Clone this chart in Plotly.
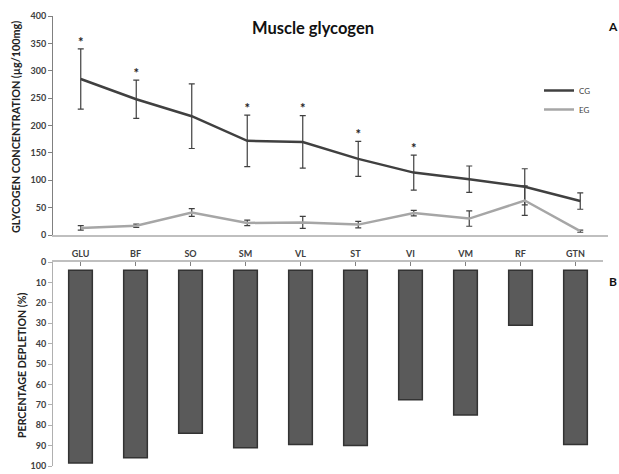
import plotly.graph_objects as go

muscles = ["GLU", "BF", "SO", "SM", "VL", "ST", "VI", "VM", "RF", "GTN"]
cg_mean = [285, 248, 217, 172, 170, 139, 114, 102, 88, 62]
cg_err = [55, 35, 59, 47, 48, 32, 32, 24, 33, 15]
eg_mean = [13, 17, 41, 22, 23, 19, 40, 30, 63, 7]
eg_err = [4, 3, 7, 5, 11, 6, 5, 14, 27, 2]
significant = [True, True, False, True, True, True, True, False, False, False]
depletion = [98.5, 96, 84, 91, 89.5, 90, 67.5, 75, 31, 89.5]

W, H = 619, 474
FONT = "Lato"
DARK = "#404040"
LIGHT = "#a6a6a6"
AXIS = "#bfbfbf"

def px_x(p):
    return p / W

def px_y(p):
    return 1 - p / H

fig = go.Figure()

fig.add_trace(go.Scatter(
    x=muscles, y=cg_mean, name="CG", mode="lines",
    line=dict(color=DARK, width=2.5),
    error_y=dict(type="data", array=cg_err, color=DARK, thickness=1.2, width=3),
    xaxis="x", yaxis="y",
))
fig.add_trace(go.Scatter(
    x=muscles, y=eg_mean, name="EG", mode="lines",
    line=dict(color=LIGHT, width=2.5),
    error_y=dict(type="data", array=eg_err, color=DARK, thickness=1.2, width=3),
    xaxis="x", yaxis="y",
))

star_x = [m for m, s in zip(muscles, significant) if s]
star_y = [c + e + 10 for c, e, s in zip(cg_mean, cg_err, significant) if s]
fig.add_trace(go.Scatter(
    x=star_x, y=star_y, mode="text", text=["<b>*</b>"] * len(star_x),
    textfont=dict(family=FONT, size=13, color="#222"),
    showlegend=False, hoverinfo="skip", xaxis="x", yaxis="y",
))

fig.add_trace(go.Bar(
    x=muscles, y=[d - 4 for d in depletion], base=4, width=0.43,
    marker=dict(color="#5a5a5a", line=dict(color="#333333", width=1.5)),
    showlegend=False, xaxis="x2", yaxis="y2",
))

tickfont = dict(family=FONT, size=9, color="#404040", weight="bold")

def label(text, x, y, size, angle=0, color="#111"):
    return dict(text=text, x=px_x(x), y=px_y(y), xref="paper", yref="paper",
                xanchor="center", yanchor="middle", showarrow=False,
                textangle=angle, font=dict(family=FONT, size=size, color=color))

fig.update_layout(
    template="none",
    width=W, height=H,
    margin=dict(l=0, r=0, t=0, b=0, pad=0),
    paper_bgcolor="white", plot_bgcolor="white",
    showlegend=True,
    legend=dict(x=px_x(539), y=px_y(76), xanchor="left", yanchor="top",
                font=dict(family=FONT, size=8, color="#404040"),
                bgcolor="rgba(0,0,0,0)", itemwidth=30, tracegroupgap=0),
    xaxis=dict(domain=[px_x(53), px_x(608)], anchor="y", type="category",
               range=[-0.5, 9.5], showticklabels=False, ticks="",
               showline=True, linecolor=AXIS, linewidth=1.5, showgrid=False,
               zeroline=False, automargin=False),
    yaxis=dict(domain=[px_y(235), px_y(16)], anchor="x", range=[0, 400],
               dtick=50, tickfont=tickfont, ticks="outside", ticklen=4,
               tickcolor="#808080", showline=True, linecolor="#808080",
               linewidth=1, showgrid=False, zeroline=False, automargin=False),
    xaxis2=dict(domain=[px_x(53), px_x(603)], anchor="y2", type="category",
                range=[-0.5, 9.5], side="top", tickfont=tickfont,
                ticks="inside", ticklen=4, tickcolor="#808080",
                showline=True, linecolor=AXIS, linewidth=1.5,
                showgrid=False, zeroline=False, automargin=False),
    yaxis2=dict(domain=[px_y(466), px_y(262)], anchor="x2", range=[100, 0],
                dtick=10, tickfont=tickfont, ticks="outside", ticklen=4,
                tickcolor="#b0b0b0", showline=True, linecolor="#b0b0b0",
                linewidth=1, showgrid=False, zeroline=False, automargin=False),
    bargap=0.5,
    annotations=[
        label("<b>Muscle glycogen</b>", 313, 28, 16.5),
        label("<b>A</b>", 613, 27, 12),
        label("<b>B</b>", 613, 281, 12),
        label("<b>GLYCOGEN CONCENTRATION (µg/100mg)</b>", 16, 127, 10.8, -90, "#222"),
        label("<b>PERCENTAGE DEPLETION (%)</b>", 22, 366, 10.6, -90, "#222"),
    ],
)

fig.write_html("out.html", config={"displayModeBar": False},
               post_script="document.body.style.margin='0';")
